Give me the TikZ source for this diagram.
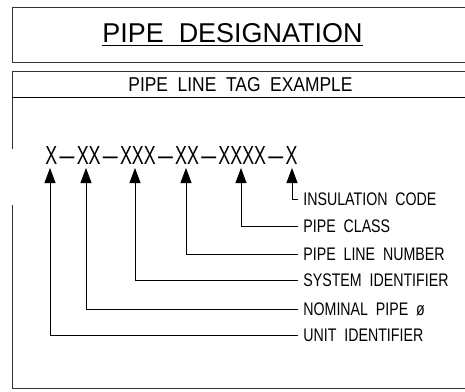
\documentclass[tikz,border=0pt]{standalone}
\usepackage{fontspec}
\setmainfont{Liberation Sans}[FakeStretch=0.78]
\usetikzlibrary{arrows.meta}
\newcommand{\tagdash}{\hspace{0.1em}\scalebox{1.5}[1]{--}\hspace{0.1em}}
\begin{document}
\begin{tikzpicture}[x=1pt,y=-1pt,line width=0.8pt,
  frame/.style={draw=black!80,line width=0.9pt},
  lbl/.style={anchor=west,inner xsep=5pt,inner ysep=0pt,text height=13pt,text depth=0pt,
    font=\fontsize{18.2}{18}\selectfont},
  lead/.style={draw,-{Triangle[length=15pt,width=11pt]}}]
\useasboundingbox (0,0) rectangle (465,391);
% top box
\draw[frame] (465,7) -- (12,7) -- (12,62) -- (465,62);
\node[inner sep=0pt,anchor=base west] (title) at (102,42) {\resizebox{260pt}{19pt}{PIPE\ \ DESIGNATION}};
\draw[line width=0.9pt] ([yshift=-3.5pt]title.base west) -- ([yshift=-3.5pt]title.base east);
% second box
\draw[frame] (465,71) -- (12,71) -- (12,149);
\draw[frame] (12,205) -- (12,388) -- (465,388);
\draw[line width=0.6pt] (12,97) -- (465,97);
\node[inner sep=0pt,anchor=base west] (head) at (128,91) {\resizebox{224pt}{14pt}{PIPE\ \ LINE\ \ TAG\ \ EXAMPLE}};
% tag
\node[inner sep=0pt,anchor=base west] (tag) at (45,164) {\resizebox{252pt}{18pt}{X\tagdash XX\tagdash XXX\tagdash XX\tagdash XXXX\tagdash X}};
\coordinate (t1) at (50,168);
\coordinate (t2) at (86,168);
\coordinate (t3) at (135,168);
\coordinate (t4) at (186,168);
\coordinate (t5) at (241,168);
\coordinate (t6) at (292,168);
% labels
\node[lbl] (l6) at (298,199) {INSULATION\ \ CODE};
\node[lbl] (l5) at (298,226) {PIPE\ \ CLASS};
\node[lbl] (l4) at (298,254) {PIPE\ \ LINE\ \ NUMBER};
\node[lbl] (l3) at (298,280) {SYSTEM\ \ IDENTIFIER};
\node[lbl] (l2) at (298,309) {NOMINAL\ \ PIPE\ \ ø};
\node[lbl] (l1) at (298,335) {UNIT\ \ IDENTIFIER};
\foreach \i in {1,...,6}{\draw[lead] (l\i.west) -| (t\i);}
\end{tikzpicture}
\end{document}
